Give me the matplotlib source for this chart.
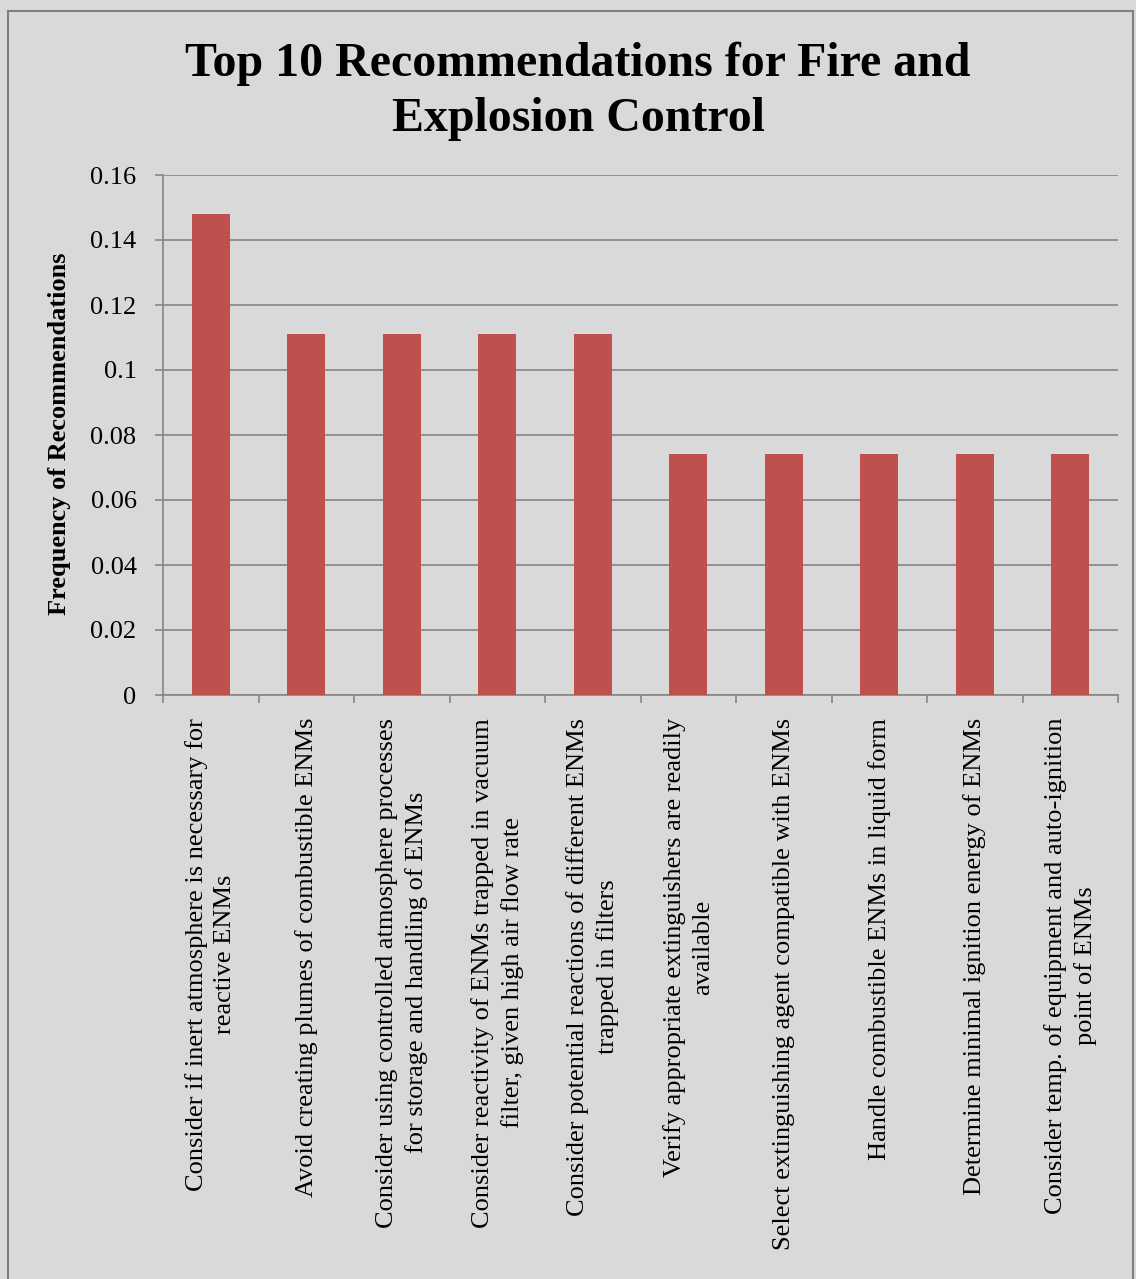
import matplotlib
matplotlib.use('Agg')
import matplotlib.pyplot as plt
import numpy as np
from matplotlib.patches import Rectangle

# Data
categories = [
	'Consider if inert atmosphere is necessary for\nreactive ENMs',
	'Avoid creating plumes of combustible ENMs',
	'Consider using controlled atmosphere processes\nfor storage and handling of ENMs',
	'Consider reactivity of ENMs trapped in vacuum\nfilter, given high air flow rate',
	'Consider potential reactions of different ENMs\ntrapped in filters',
	'Verify appropriate extinguishers are readily\navailable',
	'Select extinguishing agent compatible with ENMs',
	'Handle combustible ENMs in liquid form',
	'Determine minimal ignition energy of ENMs',
	'Consider temp. of equipment and auto-ignition\npoint of ENMs',
]
frequencies = [0.1481, 0.1111, 0.1111, 0.1111, 0.1111, 0.0741, 0.0741, 0.0741, 0.0741, 0.0741]
y_ticks = [0, 0.02, 0.04, 0.06, 0.08, 0.1, 0.12, 0.14, 0.16]
y_ticklabels = ['0', '0.02', '0.04', '0.06', '0.08', '0.1', '0.12', '0.14', '0.16']

bg = '#d9d9d9'
grey = '#868686'

plt.rcParams['font.family'] = ['Liberation Serif', 'DejaVu Serif']

fig = plt.figure(figsize=(11.36, 12.79), dpi=100, facecolor=bg)
fig.patches.append(Rectangle((8 / 1136.0, -0.01), 1125 / 1136.0, 1 - 11 / 1279.0 + 0.01,
	transform=fig.transFigure, fill=False, edgecolor='#7f7f7f', linewidth=1.5))

ax = fig.add_axes([163 / 1136.0, 1 - 695 / 1279.0, (1118 - 163) / 1136.0, (695 - 175) / 1279.0])
ax.set_facecolor(bg)

x = np.arange(len(categories))
ax.bar(x, frequencies, width=0.4, color='#c0504d', zorder=3)

ax.set_xlim(-0.5, len(categories) - 0.5)
ax.set_ylim(0, 0.16)
ax.set_yticks(y_ticks)
ax.set_yticklabels(y_ticklabels, fontsize=19)
ax.yaxis.grid(True, color=grey, linewidth=1.2, zorder=0)

ax.set_xticks(np.arange(len(categories) + 1) - 0.5)
ax.set_xticklabels([])
for i, label in enumerate(categories):
	ax.text(i, -0.007, label, rotation=90, ha='center', va='top', multialignment='center',
		fontsize=19, linespacing=1.37, transform=ax.transData)

for side in ['top', 'right']:
	ax.spines[side].set_visible(False)
for side in ['left', 'bottom']:
	ax.spines[side].set_color(grey)
	ax.spines[side].set_linewidth(1.2)
ax.tick_params(axis='both', which='both', length=6, width=1.2, color=grey, direction='out')
ax.tick_params(axis='y', pad=13)

fig.text(60 / 1136.0, 1 - 434 / 1279.0, 'Frequency of Recommendations', rotation=90,
	ha='center', va='center', fontsize=19, fontweight='bold')
fig.text(578 / 1136.0, 1 - 91 / 1279.0, 'Top 10 Recommendations for Fire and\nExplosion Control',
	ha='center', va='center', fontsize=34.5, fontweight='bold', linespacing=1.32)

plt.savefig('out.png', dpi=100, facecolor=bg)
